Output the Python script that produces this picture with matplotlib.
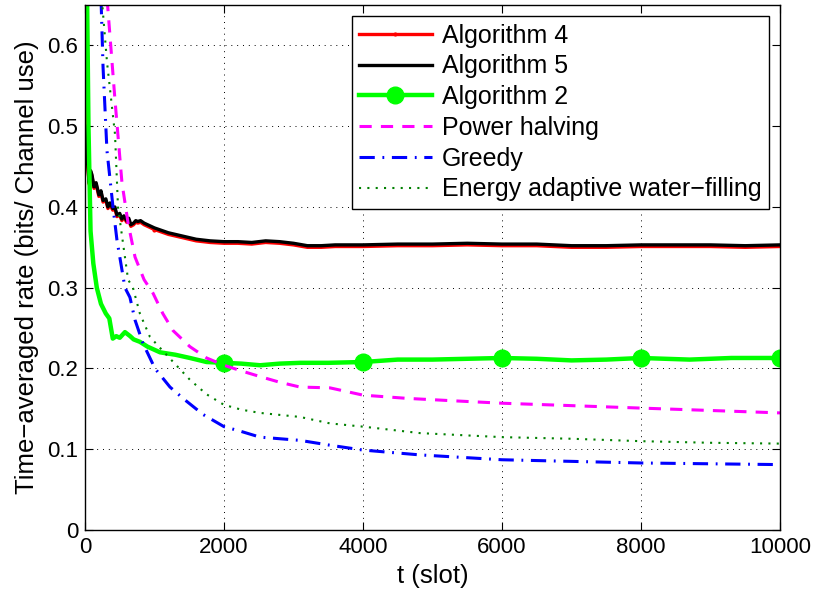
import matplotlib
matplotlib.use("Agg")
import matplotlib.pyplot as plt
import numpy as np

plt.rcParams['font.family'] = ['Liberation Sans', 'DejaVu Sans']

# Algorithm 4 / 5 (nearly identical)
t_a45 = [1, 20, 40, 60, 80, 100, 130, 160, 200, 230, 260, 300, 330, 360, 400, 430, 460, 500, 530,
         560, 600, 630, 660, 700, 730, 760, 800, 850, 900, 1000, 1100, 1200, 1300, 1400, 1500, 1600,
         1800, 2000, 2200, 2400, 2600, 2800, 3000, 3200, 3400, 3600, 4000, 4500, 5000, 5500, 6000,
         6500, 7000, 7500, 8000, 8500, 9000, 9500, 10000]
alg5 = [0.50, 0.46, 0.452, 0.43, 0.445, 0.44, 0.425, 0.43, 0.415, 0.42, 0.408, 0.41, 0.40, 0.405,
        0.398, 0.40, 0.39, 0.392, 0.385, 0.389, 0.383, 0.386, 0.378, 0.38, 0.383, 0.382, 0.383,
        0.380, 0.378, 0.374, 0.371, 0.368, 0.366, 0.364, 0.362, 0.360, 0.358, 0.357, 0.357, 0.356,
        0.358, 0.357, 0.355, 0.352, 0.352, 0.353, 0.353, 0.354, 0.354, 0.355, 0.354, 0.354, 0.352,
        0.352, 0.353, 0.353, 0.353, 0.352, 0.353]
alg4 = [0.55, 0.51, 0.45, 0.428, 0.443, 0.438, 0.423, 0.428, 0.413, 0.418, 0.406, 0.408, 0.398,
        0.403, 0.396, 0.398, 0.388, 0.390, 0.383, 0.387, 0.381, 0.384, 0.376, 0.378, 0.381, 0.380,
        0.381, 0.378, 0.376, 0.372, 0.369, 0.366, 0.364, 0.362, 0.360, 0.358, 0.356, 0.355, 0.355,
        0.354, 0.356, 0.355, 0.353, 0.350, 0.350, 0.351, 0.351, 0.352, 0.352, 0.353, 0.352, 0.352,
        0.350, 0.350, 0.351, 0.351, 0.351, 0.350, 0.351]

# Algorithm 2
t_a2 = [1, 30, 50, 80, 120, 170, 230, 300, 350, 400, 450, 500, 575, 650, 700, 790, 900, 1080,
        1300, 1510, 1750, 2000, 2250, 2520, 2800, 3100, 3500, 4000, 4500, 5000, 5500, 6000, 6500,
        7000, 7500, 8000, 8700, 9300, 10000]
alg2 = [0.80, 0.66, 0.50, 0.37, 0.33, 0.30, 0.28, 0.268, 0.262, 0.237, 0.24, 0.238, 0.245, 0.24,
        0.236, 0.233, 0.227, 0.22, 0.217, 0.213, 0.208, 0.207, 0.206, 0.204, 0.206, 0.207, 0.207,
        0.208, 0.211, 0.211, 0.212, 0.213, 0.212, 0.210, 0.211, 0.213, 0.211, 0.213, 0.213]
alg2_marks = [2000, 4000, 6000, 8000, 10000]

# Power halving
t_ph = [1, 250, 316, 432, 532, 620, 720, 850, 980, 1120, 1266, 1510, 1750, 2000, 2250, 2518,
        2800, 3094, 3525, 4000, 4633, 5300, 6000, 7000, 7985, 9000, 10000]
power_halving = [1.2, 0.80, 0.66, 0.532, 0.43, 0.38, 0.338, 0.31, 0.293, 0.268, 0.247, 0.227,
                 0.213, 0.204, 0.197, 0.19, 0.183, 0.177, 0.176, 0.167, 0.163, 0.16, 0.157,
                 0.154, 0.151, 0.148, 0.145]

# Greedy
t_gr = [1, 200, 230, 260, 316, 403, 460, 575, 647, 720, 835, 1007, 1223, 1439, 1700, 2000,
        2250, 2518, 3094, 3525, 4000, 4820, 6000, 7000, 8000, 9000, 10000]
greedy = [1.2, 0.75, 0.66, 0.573, 0.47, 0.40, 0.359, 0.30, 0.288, 0.26, 0.231, 0.20, 0.177,
          0.161, 0.143, 0.128, 0.122, 0.115, 0.111, 0.105, 0.099, 0.093, 0.087, 0.085, 0.083,
          0.082, 0.081]

# Energy adaptive water-filling
t_ew = [1, 210, 240, 316, 432, 475, 620, 690, 790, 935, 1150, 1510, 1750, 2000, 2250, 2518,
        3094, 3525, 4000, 4820, 6000, 7000, 8000, 9000, 10000]
ewf = [1.2, 0.72, 0.66, 0.58, 0.49, 0.40, 0.31, 0.30, 0.268, 0.239, 0.219, 0.186, 0.168, 0.155,
       0.149, 0.145, 0.14, 0.132, 0.128, 0.12, 0.115, 0.113, 0.11, 0.108, 0.107]

x_ticks = [0, 2000, 4000, 6000, 8000, 10000]
y_ticks = [0, 0.1, 0.2, 0.3, 0.4, 0.5, 0.6]
y_tick_labels = ["0", "0.1", "0.2", "0.3", "0.4", "0.5", "0.6"]

fig = plt.figure(figsize=(8.14, 5.94), dpi=100)
ax = fig.add_axes([0.1044, 0.1077, 0.8538, 0.8839])

ax.plot(t_a45, alg4, color='red', lw=2.4, marker='.', markersize=4, markevery=[len(t_a45) // 2],
        label='Algorithm 4')
ax.plot(t_a45, alg5, color='black', lw=2.4, label='Algorithm 5')
mk = [i for i, t in enumerate(t_a2) if t in alg2_marks]
ax.plot(t_a2, alg2, color='#00ff00', lw=3.2, marker='o', markersize=12, markevery=mk,
        label='Algorithm 2')
ax.plot(t_ph, power_halving, color='magenta', lw=2.2, ls=(0, (4, 3)), label='Power halving')
ax.plot(t_gr, greedy, color='blue', lw=2.2, ls=(0, (5, 2.5, 0.6, 2.5)), label='Greedy')
ax.plot(t_ew, ewf, color='green', lw=1.5, ls=(0, (1, 3)), label='Energy adaptive water\u2212filling')

ax.set_xlim(0, 10000)
ax.set_ylim(0, 0.65)
ax.set_xticks(x_ticks)
ax.set_yticks(y_ticks)
ax.set_yticklabels(y_tick_labels)
ax.tick_params(direction='in', top=True, right=True, labelsize=16, length=6, width=0.8, pad=5)
ax.grid(True, color='black', ls=(0, (1, 5)), lw=0.7)
for s in ax.spines.values():
    s.set_linewidth(1.0)

ax.set_xlabel("t (slot)", fontsize=18.5, labelpad=4)
ax.set_ylabel("Time\u2212averaged rate (bits/ Channel use)", fontsize=18.5, labelpad=6)

leg = ax.legend(loc='upper right', fontsize=18, handlelength=2.9, handletextpad=0.4,
                labelspacing=0.27, borderaxespad=0.45, borderpad=0.3, fancybox=False,
                framealpha=1, edgecolor='black')
leg.get_frame().set_linewidth(1.0)

fig.savefig("out.png", dpi=100)
